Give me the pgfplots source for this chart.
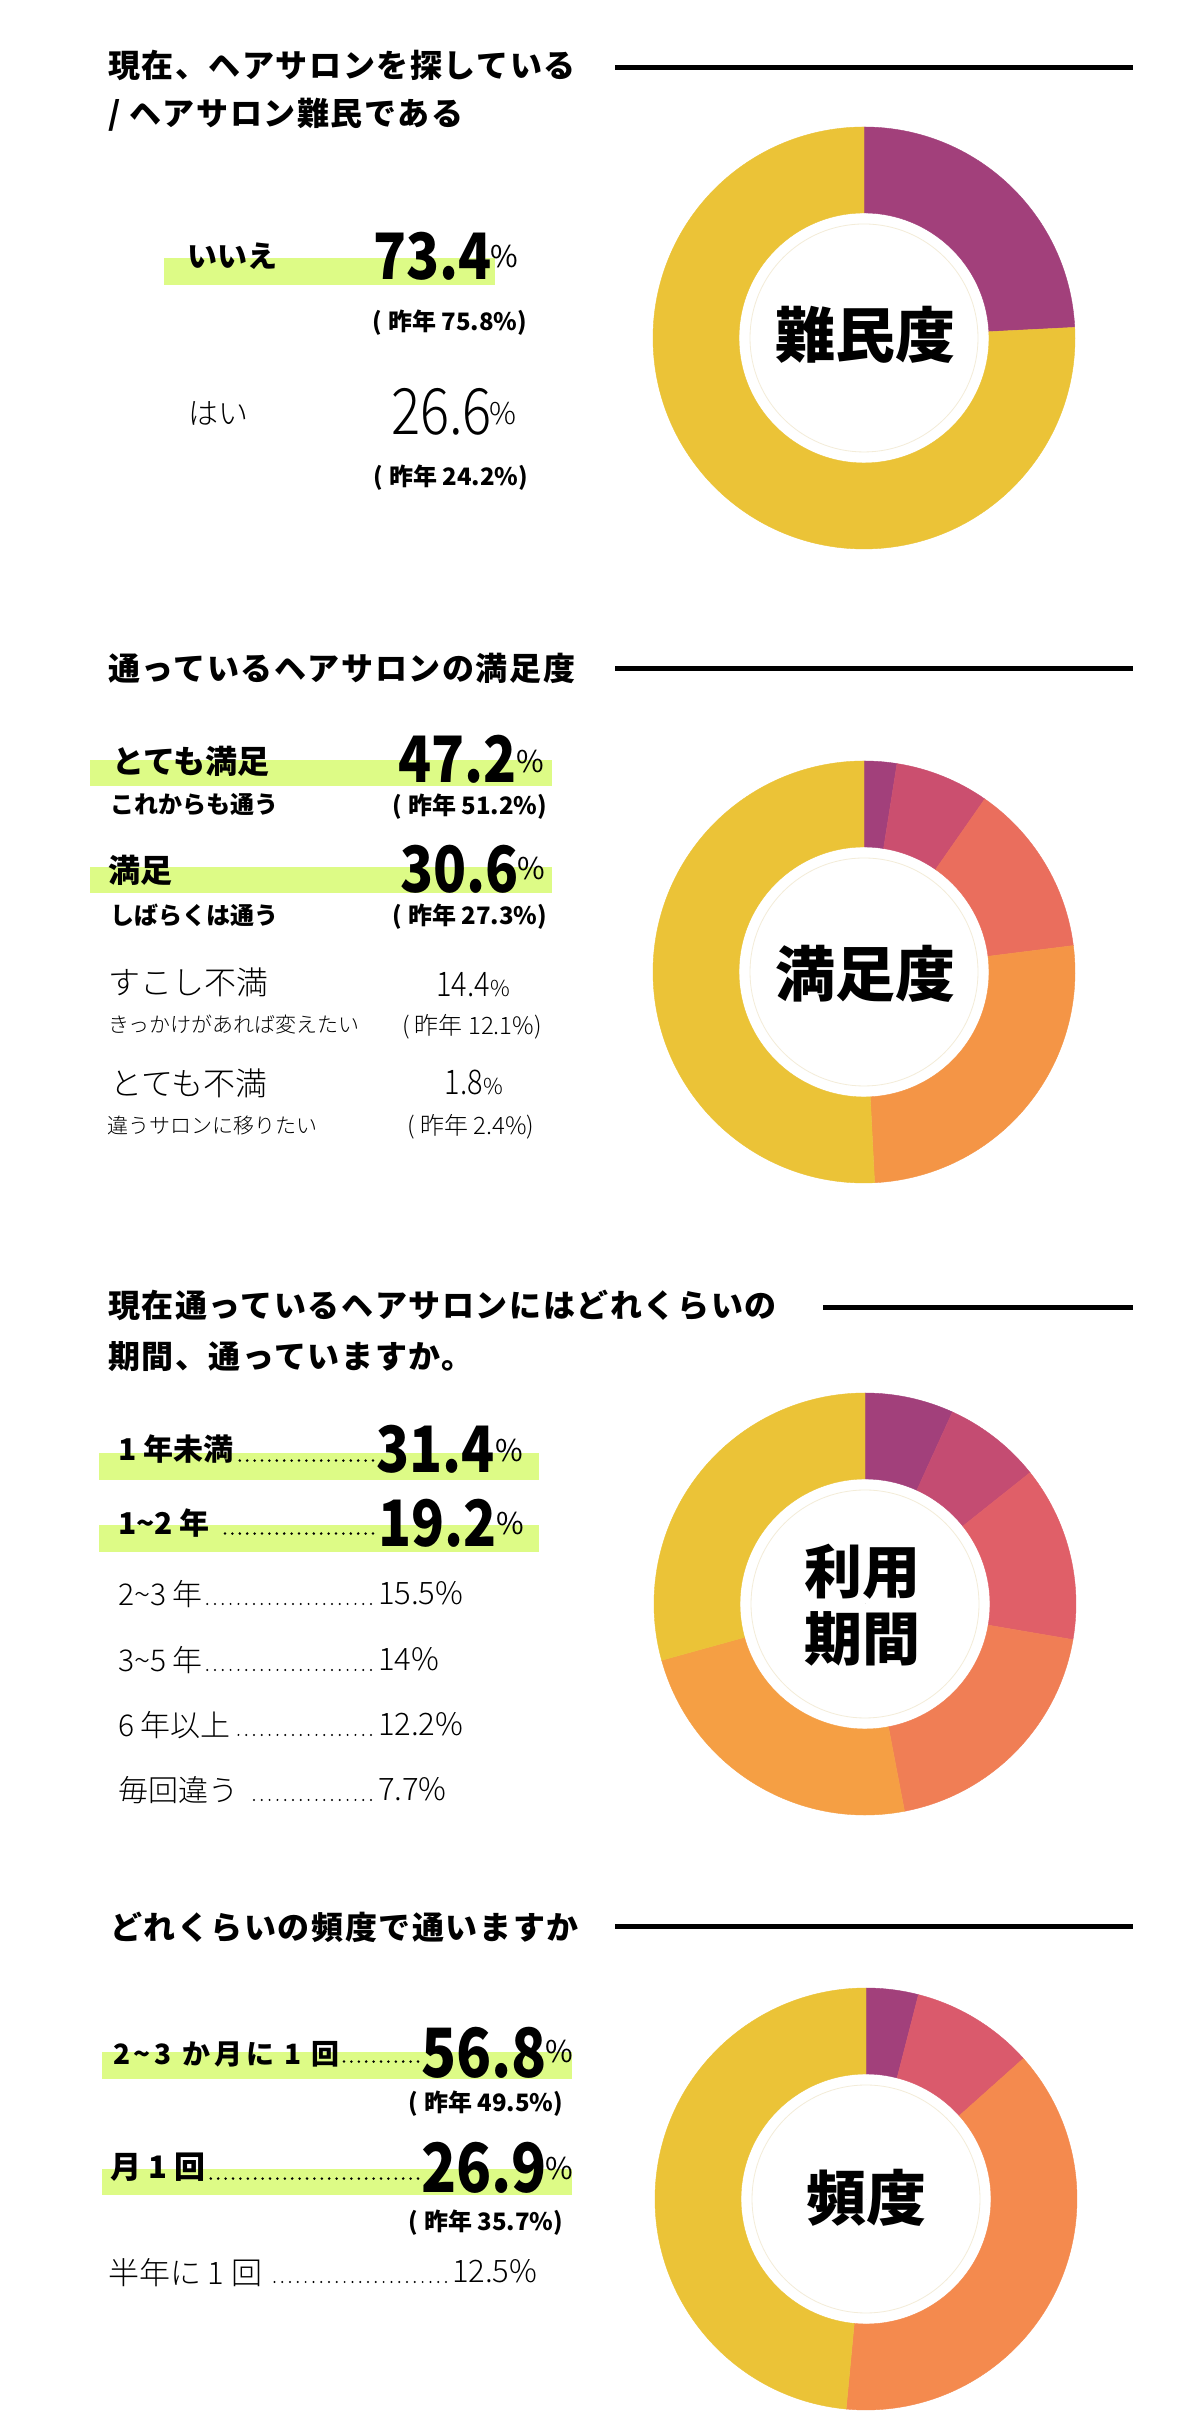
\documentclass[border=0pt]{standalone}
\usepackage{fontspec}
\usepackage{graphicx}
\usepackage{pgfplots}
\pgfplotsset{compat=1.18}
\setmainfont{Noto Sans CJK JP}
\IfFontExistsTF{Noto Sans CJK JP Light}
  {\newfontfamily\lt{Noto Sans CJK JP Light}}
  {\newfontfamily\lt{Noto Sans CJK JP}}

\definecolor{hl}{HTML}{DDFB86}
\definecolor{cpur}{HTML}{A2407B}
\definecolor{cyel}{HTML}{EBC337}
\definecolor{cpink}{HTML}{CB4F6F}
\definecolor{ccoral}{HTML}{EA6E5D}
\definecolor{corange}{HTML}{F49546}
\definecolor{cmag}{HTML}{C44C72}
\definecolor{cred}{HTML}{E05F68}
\definecolor{ccor}{HTML}{F07E55}
\definecolor{corg}{HTML}{F59F44}
\definecolor{cpinkb}{HTML}{DA5A6C}
\definecolor{corgb}{HTML}{F48A4E}
\definecolor{ring}{HTML}{F3ECD8}

\newcommand\fs[1]{\fontsize{#1}{#1}\selectfont}
\newcommand\ttl{\bfseries\fs{32}\addfontfeatures{LetterSpace=5}}
\newcommand\num[1]{\scalebox{0.85}[1]{#1}}
\newcommand\ti{\textasciitilde}

\pgfplotsset{
  donut/.style={at={#1}, anchor=origin, hide axis, scale only axis,
    width=10pt, height=10pt, xmin=-1, xmax=1, ymin=-1, ymax=1, clip=false},
  seg/.style={scatter, only marks, mark=*, mark size=0pt,
    mark options={draw=none, fill=none}, point meta=explicit,
    visualization depends on={value \thisrow{v}\as\segval},
    visualization depends on={value \thisrow{c}\as\segcol},
    scatter/@pre marker code/.code={%
      \pgfmathsetmacro\aS{90-3.6*\cumul}%
      \pgfmathsetmacro\aE{90-3.6*(\cumul+\segval)}%
      \fill[\segcol] (\aS:211pt) arc[start angle=\aS, end angle=\aE, radius=211pt]
        -- (\aE:125pt) arc[start angle=\aE, end angle=\aS, radius=125pt] -- cycle;%
      \pgfmathsetmacro\nc{\cumul+\segval}\xdef\cumul{\nc}},
    scatter/@post marker code/.code={}}
}

\begin{document}
\begin{tikzpicture}[x=1pt, y=1pt, every node/.style={inner sep=0pt, outer sep=0pt},
  bdots/.style={line width=2.8pt, line cap=round, dash pattern=on 0pt off 7.4pt},
  ldots/.style={line width=2.2pt, line cap=round, dash pattern=on 0pt off 7.8pt}]
\fill[white] (0,0) rectangle (1200,2420);
\path[use as bounding box] (0,0) rectangle (1200,2420);

% ---------- section 1
\node[anchor=west, font=\ttl] at (108,2420-65) {現在、ヘアサロンを探している};
\node[anchor=west, font=\ttl] at (108,2420-115) {/ ヘアサロン難民である};
\draw[line width=5pt] (615,2420-68) -- (1133,2420-68);
\fill[hl] (164,2420-258) rectangle (495,2420-285);
\node[anchor=west, font=\bfseries\fs{30}] at (187,2420-256.5) {いいえ};
\node[anchor=base east, font=\bfseries\fs{64}] at (492,2420-280) {\num{73.4}};
\node[anchor=base west, font=\fs{30}] at (490,2420-268) {\%};
\node[anchor=base, font=\bfseries\fs{24}] at (450,2420-331) {( 昨年 75.8\%)};
\node[anchor=west, font=\lt\fs{30}] at (188,2420-413.5) {はい};
\node[anchor=base east, font=\lt\fs{64}] at (492,2420-435) {\num{26.6}};
\node[anchor=base west, font=\lt\fs{30}] at (489,2420-425) {\%};
\node[anchor=base, font=\bfseries\fs{24}] at (451,2420-486) {( 昨年 24.2\%)};

\gdef\cumul{0}
\begin{axis}[donut={(864pt,2082pt)}]
\addplot[seg] table[x expr=0, y expr=0, meta=v] {
v c
24.2 cpur
75.8 cyel
};
\end{axis}
\draw[ring, line width=0.8pt] (864,2082) circle[radius=114];
\node[font=\bfseries\fs{60}] at (865,2420-335) {難民度};

% ---------- section 2
\node[anchor=west, font=\ttl] at (108,2420-668) {通っているヘアサロンの満足度};
\draw[line width=5pt] (615,2420-669) -- (1133,2420-669);
\fill[hl] (90,2420-760) rectangle (552,2420-786);
\node[anchor=west, font=\bfseries\fs{32}] at (112,2420-761) {とても満足};
\node[anchor=base east, font=\bfseries\fs{64}] at (517,2420-783) {\num{47.2}};
\node[anchor=base west, font=\fs{30}] at (516,2420-773) {\%};
\node[anchor=west, font=\bfseries\fs{24}] at (110,2420-805) {これからも通う};
\node[anchor=base, font=\bfseries\fs{24}] at (470,2420-815) {( 昨年 51.2\%)};
\fill[hl] (90,2420-867) rectangle (552,2420-893);
\node[anchor=west, font=\bfseries\fs{32}] at (108,2420-870) {満足};
\node[anchor=base east, font=\bfseries\fs{64}] at (519,2420-893) {\num{30.6}};
\node[anchor=base west, font=\fs{30}] at (517,2420-880) {\%};
\node[anchor=west, font=\bfseries\fs{24}] at (110,2420-915) {しばらくは通う};
\node[anchor=base, font=\bfseries\fs{24}] at (470,2420-925) {( 昨年 27.3\%)};
\node[anchor=west, font=\lt\fs{32}] at (108,2420-982) {すこし不満};
\node[anchor=base east, font=\lt\fs{34}] at (490,2420-997) {\num{14.4}};
\node[anchor=base west, font=\lt\fs{22}] at (490,2420-997) {\%};
\node[anchor=west, font=\lt\fs{21}] at (108,2420-1025) {きっかけがあれば変えたい};
\node[anchor=base, font=\lt\fs{24}] at (472,2420-1035) {( 昨年 12.1\%)};
\node[anchor=west, font=\lt\fs{32}] at (110,2420-1083) {とても不満};
\node[anchor=base east, font=\lt\fs{34}] at (483,2420-1095) {\num{1.8}};
\node[anchor=base west, font=\lt\fs{22}] at (483,2420-1095) {\%};
\node[anchor=west, font=\lt\fs{21}] at (107,2420-1126) {違うサロンに移りたい};
\node[anchor=base, font=\lt\fs{24}] at (471,2420-1135) {( 昨年 2.4\%)};

\gdef\cumul{0}
\begin{axis}[donut={(864pt,1448pt)}]
\addplot[seg] table[x expr=0, y expr=0, meta=v] {
v c
2.5 cpur
7.2 cpink
13.3 ccoral
26.2 corange
50.8 cyel
};
\end{axis}
\draw[ring, line width=0.8pt] (864,1448) circle[radius=114];
\node[font=\bfseries\fs{60}] at (865,2420-974) {満足度};

% ---------- section 3
\node[anchor=west, font=\ttl] at (108,2420-1305) {現在通っているヘアサロンにはどれくらいの};
\node[anchor=west, font=\ttl] at (108,2420-1357) {期間、通っていますか。};
\draw[line width=5pt] (823,2420-1308) -- (1133,2420-1308);
\fill[hl] (99,2420-1453) rectangle (539,2420-1480);
\node[anchor=west, font=\bfseries\fs{30}] (a1) at (118,2420-1449) {1 年未満};
\draw[bdots, shorten >=4pt] (373,2420-1460.6) -- (a1.east |- 0,2420-1460.6);
\node[anchor=base east, font=\bfseries\fs{64}] at (495,2420-1473) {\num{31.4}};
\node[anchor=base west, font=\fs{30}] at (495,2420-1462) {\%};
\fill[hl] (99,2420-1525) rectangle (539,2420-1552);
\node[anchor=west, font=\bfseries\fs{30}] (a2) at (118,2420-1523.5) {1\ti 2 年};
\draw[bdots, shorten >=14pt] (373,2420-1533.6) -- (a2.east |- 0,2420-1533.6);
\node[anchor=base east, font=\bfseries\fs{64}] at (497,2420-1547) {\num{19.2}};
\node[anchor=base west, font=\fs{30}] at (496,2420-1535) {\%};
\node[anchor=west, font=\lt\fs{30}] (a3) at (118,2420-1594) {2\ti 3 年};
\draw[ldots, shorten >=3pt] (371,2420-1604) -- (a3.east |- 0,2420-1604);
\node[anchor=base west, font=\lt\fs{31}] at (378,2420-1605) {15.5\%};
\node[anchor=west, font=\lt\fs{30}] (a4) at (118,2420-1660) {3\ti 5 年};
\draw[ldots, shorten >=3pt] (371,2420-1670) -- (a4.east |- 0,2420-1670);
\node[anchor=base west, font=\lt\fs{31}] at (378,2420-1671) {14\%};
\node[anchor=west, font=\lt\fs{30}] (a5) at (118,2420-1725) {6 年以上};
\draw[ldots, shorten >=3pt] (371,2420-1735) -- (a5.east |- 0,2420-1735);
\node[anchor=base west, font=\lt\fs{31}] at (378,2420-1736) {12.2\%};
\node[anchor=west, font=\lt\fs{30}] (a6) at (118,2420-1790) {毎回違う};
\draw[ldots, shorten >=12pt] (371,2420-1800) -- (a6.east |- 0,2420-1800);
\node[anchor=base west, font=\lt\fs{31}] at (378,2420-1801) {7.7\%};

\gdef\cumul{0}
\begin{axis}[donut={(865pt,816pt)}]
\addplot[seg] table[x expr=0, y expr=0, meta=v] {
v c
6.8 cpur
7.5 cmag
13.4 cred
19.3 ccor
23.7 corg
29.3 cyel
};
\end{axis}
\draw[ring, line width=0.8pt] (865,816) circle[radius=114];
\node[font=\bfseries\fs{58}, align=center] at (862,2420-1605) {利用\\[9pt]期間};

% ---------- section 4
\node[anchor=west, font=\ttl] at (110,2420-1927) {どれくらいの頻度で通いますか};
\draw[line width=5pt] (615,2420-1927) -- (1133,2420-1927);
\fill[hl] (102,2420-2052) rectangle (572,2420-2079);
\node[anchor=west, font=\bfseries\fs{28}\addfontfeatures{LetterSpace=14}] (b1) at (113,2420-2054) {2\ti 3 か月に 1 回};
\draw[bdots, shorten >=4pt] (418,2420-2061.6) -- (b1.east |- 0,2420-2061.6);
\node[anchor=base east, font=\bfseries\fs{68}] at (547,2420-2078) {\num{56.8}};
\node[anchor=base west, font=\fs{30}] at (545,2420-2063) {\%};
\node[anchor=base, font=\bfseries\fs{24}] at (486,2420-2112) {( 昨年 49.5\%)};
\fill[hl] (102,2420-2169) rectangle (572,2420-2195);
\node[anchor=west, font=\bfseries\fs{31}] (b2) at (110,2420-2167.5) {月 1 回};
\draw[bdots, shorten >=4pt] (418,2420-2178.6) -- (b2.east |- 0,2420-2178.6);
\node[anchor=base east, font=\bfseries\fs{68}] at (547,2420-2193) {\num{26.9}};
\node[anchor=base west, font=\fs{30}] at (545,2420-2180) {\%};
\node[anchor=base, font=\bfseries\fs{24}] at (486,2420-2231) {( 昨年 35.7\%)};
\node[anchor=west, font=\lt\fs{31}] (b3) at (108,2420-2273) {半年に 1 回};
\draw[ldots, shorten >=12pt] (446,2420-2282) -- (b3.east |- 0,2420-2282);
\node[anchor=base west, font=\lt\fs{31}] at (452,2420-2283) {12.5\%};

\gdef\cumul{0}
\begin{axis}[donut={(866pt,221pt)}]
\addplot[seg] table[x expr=0, y expr=0, meta=v] {
v c
4.0 cpur
9.4 cpinkb
38.1 corgb
48.5 cyel
};
\end{axis}
\draw[ring, line width=0.8pt] (866,221) circle[radius=114];
\node[font=\bfseries\fs{60}] at (866,2420-2198) {頻度};
\end{tikzpicture}
\end{document}
